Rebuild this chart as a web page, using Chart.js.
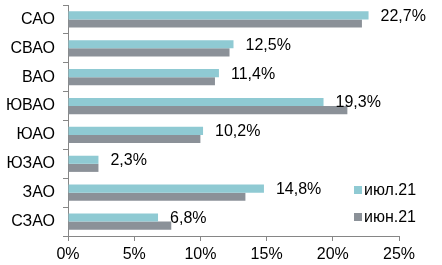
<!DOCTYPE html>
<html>
<head>
<meta charset="utf-8">
<script src="https://cdn.jsdelivr.net/npm/chart.js@4/dist/chart.umd.min.js"></script>
<style>
  html, body { margin: 0; padding: 0; background: #fff; }
  #wrap { width: 442px; height: 265px; position: relative; }
</style>
</head>
<body>
<div id="wrap"><canvas id="c"></canvas></div>
<script>
// данные по округам
const districts = ['САО', 'СВАО', 'ВАО', 'ЮВАО', 'ЮАО', 'ЮЗАО', 'ЗАО', 'СЗАО'];
const july21 = [22.7, 12.5, 11.4, 19.3, 10.2, 2.3, 14.8, 6.8];
const june21 = [22.2, 12.2, 11.1, 21.1, 10.0, 2.3, 13.4, 7.8];
const seriesNames = ['июл.21', 'июн.21'];
const xTicks = [0, 5, 10, 15, 20, 25];

const TEAL = '#8fcad3';
const GREY = '#8b9198';
const FONT = 'Liberation Sans, Arial, sans-serif';

// подписи значений справа от баров июля
const valueLabels = {
    id: 'valueLabels',
    afterDatasetsDraw(chart) {
        const ctx = chart.ctx;
        const meta = chart.getDatasetMeta(0);
        ctx.save();
        ctx.font = '16px ' + FONT;
        ctx.fillStyle = '#000';
        ctx.textBaseline = 'middle';
        ctx.textAlign = 'left';
        meta.data.forEach((bar, i) => {
            const txt = july21[i].toFixed(1).replace('.', ',') + '%';
            ctx.fillText(txt, bar.x + 12, bar.y + 1);
        });
        ctx.restore();
    }
};

// легенда внутри области графика
const insideLegend = {
    id: 'insideLegend',
    afterDraw(chart) {
        const ctx = chart.ctx;
        ctx.save();
        ctx.font = '16px ' + FONT;
        ctx.textBaseline = 'middle';
        chart.data.datasets.forEach((ds, i) => {
            const y = 190 + i * 27;
            ctx.fillStyle = ds.backgroundColor;
            ctx.fillRect(354, y - 4, 8, 8);
            ctx.fillStyle = '#000';
            ctx.fillText(ds.label, 364, y + 1);
        });
        ctx.restore();
    }
};

new Chart(document.getElementById('c'), {
    type: 'bar',
    data: {
        labels: districts,
        datasets: [
            { label: seriesNames[0], data: july21, backgroundColor: TEAL },
            { label: seriesNames[1], data: june21, backgroundColor: GREY }
        ]
    },
    options: {
        indexAxis: 'y',
        responsive: true,
        maintainAspectRatio: false,
        animation: false,
        datasets: {
            bar: { categoryPercentage: 0.56, barPercentage: 1.0, borderWidth: 0 }
        },
        layout: { padding: { top: 5, right: 43, left: 0, bottom: 0 } },
        scales: {
            x: {
                min: 0,
                max: 25,
                afterBuildTicks(scale) {
                    scale.ticks = xTicks.map(v => ({ value: v }));
                },
                afterFit(scale) { scale.height = 29; },
                border: { display: true, color: '#868686', width: 1 },
                grid: { drawOnChartArea: false, drawTicks: true, tickLength: 5, color: '#868686' },
                ticks: {
                    color: '#000',
                    font: { family: FONT, size: 16 },
                    padding: 4,
                    maxRotation: 0,
                    callback: v => v + '%'
                }
            },
            y: {
                afterFit(scale) {
                    scale.width = 68;
                    scale.paddingTop = 0;
                    scale.paddingBottom = 0;
                },
                border: { display: true, color: '#868686', width: 1 },
                grid: { drawOnChartArea: false, drawTicks: true, tickLength: 5, color: '#868686', offset: true },
                ticks: {
                    color: '#000',
                    font: { family: FONT, size: 16 },
                    padding: 8
                }
            }
        },
        plugins: {
            legend: { display: false },
            tooltip: { enabled: false }
        }
    },
    plugins: [valueLabels, insideLegend]
});
</script>
</body>
</html>
